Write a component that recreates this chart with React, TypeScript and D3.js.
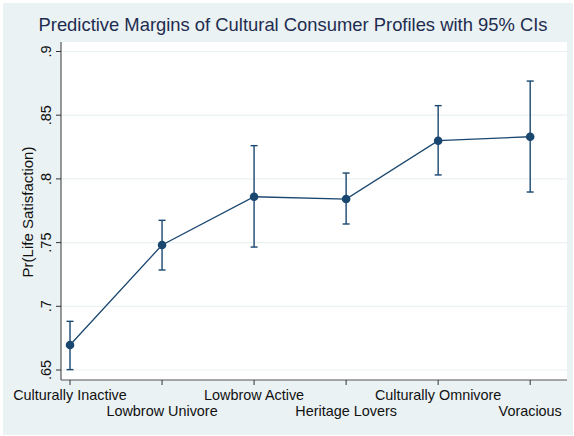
import React from "react";
import * as d3 from "d3";

// Predicted probability of life satisfaction by cultural consumer profile
const categories = [
  "Culturally Inactive",
  "Lowbrow Univore",
  "Lowbrow Active",
  "Heritage Lovers",
  "Culturally Omnivore",
  "Voracious",
];
const margins = [0.6696, 0.7481, 0.786, 0.7842, 0.83, 0.8331];
const ciLower = [0.6503, 0.7285, 0.7465, 0.7646, 0.8031, 0.7897];
const ciUpper = [0.6882, 0.7675, 0.8261, 0.8046, 0.8575, 0.8768];
const yTicks = [0.65, 0.7, 0.75, 0.8, 0.85, 0.9];
const yTickLabels = [".65", ".7", ".75", ".8", ".85", ".9"];

const W = 574;
const H = 436;
const plot = { left: 61, right: 567, top: 42, bottom: 380 };

const navy = "#1A476F";
const bg = "#EAF2F3";
const font = "'Liberation Sans', Arial, Helvetica, sans-serif";

export default function App() {
  const x = d3
    .scaleLinear()
    .domain([0.902, 6.4])
    .range([plot.left, plot.right]);
  const y = d3
    .scaleLinear()
    .domain([0.65, 0.9])
    .range([370, 51.5]);

  const pts = margins.map((m, i) => ({ xv: i + 1, m, lo: ciLower[i], hi: ciUpper[i] }));
  const line = d3
    .line<{ xv: number; m: number }>()
    .x((d) => x(d.xv))
    .y((d) => y(d.m));

  const cap = 3.5;

  return (
    <svg
      width={W}
      height={H}
      style={{ position: "absolute", left: 0, top: 0 }}
      fontFamily={font}
    >
      <rect x={0} y={0} width={W} height={H} fill="#ffffff" />
      <rect x={3} y={3} width={W - 4} height={H - 4} fill={bg} />
      <rect
        x={plot.left}
        y={plot.top}
        width={plot.right - plot.left}
        height={plot.bottom - plot.top}
        fill="#ffffff"
      />

      {/* title */}
      <text
        x={(38 + 548) / 2}
        y={31}
        textAnchor="middle"
        fontSize={18.4}
        fill="#1e2c50"
      >
        Predictive Margins of Cultural Consumer Profiles with 95% CIs
      </text>

      {/* gridlines */}
      {yTicks.map((t) => (
        <line
          key={"g" + t}
          x1={plot.left}
          x2={plot.right}
          y1={y(t)}
          y2={y(t)}
          stroke={bg}
          strokeWidth={1.2}
        />
      ))}

      {/* axes */}
      <line x1={plot.left} x2={plot.left} y1={plot.top} y2={plot.bottom} stroke="#555" strokeWidth={1.2} />
      <line x1={plot.left} x2={plot.right} y1={plot.bottom} y2={plot.bottom} stroke="#555" strokeWidth={1.2} />

      {yTicks.map((t, i) => (
        <g key={"yt" + t}>
          <line x1={plot.left - 5} x2={plot.left} y1={y(t)} y2={y(t)} stroke="#333" strokeWidth={1} />
          <text
            transform={`translate(${plot.left - 10},${y(t)}) rotate(-90)`}
            textAnchor="middle"
            fontSize={14.5}
            fill="#111"
          >
            {yTickLabels[i]}
          </text>
        </g>
      ))}

      <text
        transform={`translate(33,${(plot.top + plot.bottom) / 2 + 1}) rotate(-90)`}
        textAnchor="middle"
        fontSize={15}
        fill="#111"
      >
        Pr(Life Satisfaction)
      </text>

      {categories.map((c, i) => (
        <g key={c}>
          <line
            x1={x(i + 1)}
            x2={x(i + 1)}
            y1={plot.bottom}
            y2={plot.bottom + 5}
            stroke="#333"
            strokeWidth={1}
          />
          <text
            x={x(i + 1)}
            y={i % 2 === 0 ? 400 : 416}
            textAnchor="middle"
            fontSize={14.4}
            fill="#111"
          >
            {c}
          </text>
        </g>
      ))}

      {/* confidence intervals */}
      {pts.map((d) => (
        <g key={"ci" + d.xv} stroke={navy} strokeWidth={1.4}>
          <line x1={x(d.xv)} x2={x(d.xv)} y1={y(d.lo)} y2={y(d.hi)} />
          <line x1={x(d.xv) - cap} x2={x(d.xv) + cap} y1={y(d.lo)} y2={y(d.lo)} />
          <line x1={x(d.xv) - cap} x2={x(d.xv) + cap} y1={y(d.hi)} y2={y(d.hi)} />
        </g>
      ))}

      <path d={line(pts) || ""} fill="none" stroke={navy} strokeWidth={1.3} />

      {pts.map((d) => (
        <circle key={"p" + d.xv} cx={x(d.xv)} cy={y(d.m)} r={4.3} fill={navy} />
      ))}
    </svg>
  );
}
